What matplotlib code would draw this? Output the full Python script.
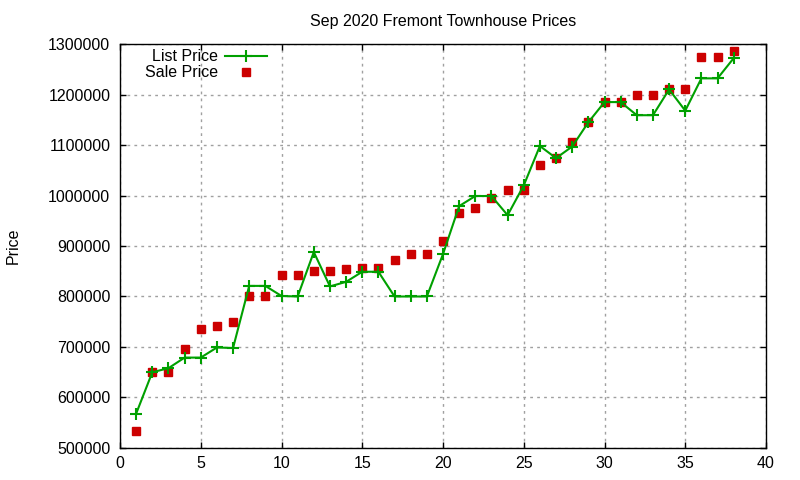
import numpy as np
import matplotlib.pyplot as plt

plt.rcParams['font.family'] = ['Liberation Sans', 'DejaVu Sans']

days = np.arange(1, 39)
list_price = [568000, 650000, 658000, 679000, 679000, 699000, 698000, 821000, 821000, 801000,
              800000, 888000, 820000, 829000, 849000, 849000, 800000, 800000, 800000, 884000,
              979000, 999000, 999000, 961000, 1020000, 1098000, 1074000, 1097000, 1145000, 1185000,
              1185000, 1159000, 1159000, 1210000, 1168000, 1232000, 1232000, 1272000]
sale_price = [534000, 650000, 650000, 696000, 735000, 742000, 750000, 800000, 800000, 842000,
              842000, 851000, 851000, 854000, 856000, 856000, 873000, 885000, 885000, 909000,
              966000, 975000, 995000, 1010000, 1011000, 1060000, 1074000, 1105000, 1145000, 1185000,
              1185000, 1200000, 1200000, 1210000, 1210000, 1274000, 1274000, 1287000]

fs = 11.5
fig = plt.figure(figsize=(8, 4.8), dpi=100)
ax = fig.add_axes([0.15, 0.0667, 0.8075, 0.8416])

ax.plot(days, list_price, color='#00a000', lw=1.5, marker='+', ms=8, mew=1.5,
        label='List Price', zorder=3)
ax.plot(days, sale_price, ls='none', marker='s', ms=6, color='#cc0000',
        label='Sale Price', zorder=2)

ax.set_xlim(0, 40)
ax.set_ylim(500000, 1300000)
ax.set_xticks(range(0, 41, 5))
ax.set_yticks(range(500000, 1300001, 100000))
ax.ticklabel_format(style='plain', axis='y', useOffset=False)
ax.tick_params(direction='in', top=True, right=True, labelsize=fs, length=4, width=1)
ax.tick_params(axis='y', pad=7)
ax.tick_params(axis='x', pad=6)
ax.grid(True, color='#a0a0a0', ls=(0, (2, 3)), lw=1)
for s in ax.spines.values():
    s.set_linewidth(1)

ax.set_title('Sep 2020 Fremont Townhouse Prices', fontsize=fs, pad=13)
ax.set_ylabel('Price', fontsize=fs, labelpad=20)

ax.legend(loc='upper left', bbox_to_anchor=(0.181, 0.897), bbox_transform=fig.transFigure,
          frameon=False, markerfirst=False, fontsize=fs, handlelength=2.6,
          handletextpad=0.45, labelspacing=0.05, borderpad=0, borderaxespad=0)

fig.savefig('out.png', dpi=100)
